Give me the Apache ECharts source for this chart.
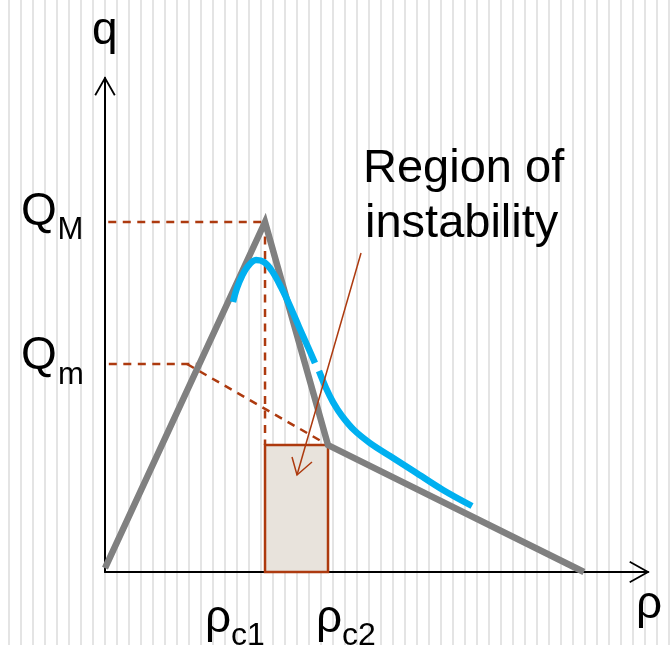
<!DOCTYPE html>
<html>
<head>
<meta charset="utf-8">
<script src="https://cdn.jsdelivr.net/npm/echarts@6/dist/echarts.min.js"></script>
<style>
  html, body { margin: 0; padding: 0; background: #fff; }
  #chart {
    width: 672px;
    height: 645px;
    background: repeating-linear-gradient(to right, #fff 0px, #fff 8px, #e4e4e4 8px, #e4e4e4 10px, #fff 10px, #fff 12px);
  }
</style>
</head>
<body>
<div id="chart"></div>
<script>
  // fundamental diagram, triangular shape (rho, q)
  const triRho = [0, 29.47, 41.07, 88.2]
  const triQ = [0.8, 70.85, 25.7, 0]
  // observed curve, two pieces
  const obsRhoA = [23.57, 24.31, 25.23, 26.34, 27.81, 29.28, 30.76, 32.41, 34.07, 35.73, 37.38, 38.67]
  const obsQA = [54.66, 57.49, 59.92, 61.94, 63.16, 62.75, 60.93, 57.69, 53.85, 49.6, 45.55, 42.31]
  const obsRhoB = [39.41, 40.7, 41.99, 43.65, 45.86, 48.8, 52.49, 57.09, 62.25, 67.59]
  const obsQB = [40.69, 37.25, 34.41, 31.58, 28.74, 26.11, 23.48, 20.24, 16.6, 13.36]
  // key levels
  const rhoC1 = 29.47
  const rhoC2 = 41.07
  const qKnee = 25.7
  const QM = 70.85
  const Qm = 42.1
  const qmLineRho = [0.7, 17.5] // horizontal part of Qm guide
  const qmSlantStart = 15.1
  // arrow pointing into the instability region
  const arrowRho = [47.15, 35.36]
  const arrowQ = [64.57, 19.64]
  const arrowHeadRho = [34.44, 35.36, 38.12]
  const arrowHeadQ = [23.28, 19.64, 22.27]
  // axis arrow heads
  const yHeadRho = [-1.8, 0, 1.8]
  const yHeadQ = [96.5, 100, 96.5]
  const xHeadRho = [96.63, 100, 96.63]
  const xHeadQ = [2.09, 0, -2.09]

  const zip = (xs, ys) => xs.map((x, i) => [x, ys[i]])

  const brown = '#ad3a0f'
  const font = '"Liberation Sans", Arial, sans-serif'
  const dashStyle = { color: brown, width: 2.5, type: [8, 6.5] }

  const heads = [
    { rho: arrowHeadRho, q: arrowHeadQ, color: brown, width: 1.5 },
    { rho: yHeadRho, q: yHeadQ, color: '#000', width: 1.8 },
    { rho: xHeadRho, q: xHeadQ, color: '#000', width: 1.8 }
  ]

  const chartInstance = echarts.init(document.getElementById('chart'), null, { renderer: 'canvas' })

  function lineSeries (data, lineStyle, extra) {
    return Object.assign({
      type: 'line',
      data: data,
      symbol: 'none',
      silent: true,
      clip: false,
      lineStyle: lineStyle
    }, extra || {})
  }

  const option = {
    animation: false,
    backgroundColor: 'transparent',
    grid: { left: 105, right: 24, top: 78, bottom: 73 },
    xAxis: {
      type: 'value',
      min: 0,
      max: 100,
      axisLine: { show: true, onZero: false, lineStyle: { color: '#000', width: 2 } },
      axisTick: { show: false },
      axisLabel: { show: false },
      splitLine: { show: false }
    },
    yAxis: {
      type: 'value',
      min: 0,
      max: 100,
      axisLine: { show: true, onZero: false, lineStyle: { color: '#000', width: 2 } },
      axisTick: { show: false },
      axisLabel: { show: false },
      splitLine: { show: false }
    },
    series: [
      // region of instability box
      lineSeries([], {}, {
        markArea: {
          silent: true,
          itemStyle: { color: '#e8e3dc', borderColor: brown, borderWidth: 2.5 },
          data: [[{ coord: [rhoC1, 0] }, { coord: [rhoC2, qKnee] }]]
        }
      }),
      // dashed guides
      lineSeries([[0.6, QM], [rhoC1, QM]], dashStyle),
      lineSeries([[rhoC1, QM], [rhoC1, qKnee]], dashStyle),
      lineSeries(zip(qmLineRho, [Qm, Qm]), dashStyle),
      lineSeries([[qmSlantStart, Qm], [rhoC2, qKnee]], dashStyle),
      // triangular diagram
      lineSeries(zip(triRho, triQ), { color: '#808080', width: 6.5, join: 'miter' }),
      // observed curve
      lineSeries(zip(obsRhoA, obsQA), { color: '#00b0f0', width: 6.5, join: 'round' }, { smooth: 0.35 }),
      lineSeries(zip(obsRhoB, obsQB), { color: '#00b0f0', width: 6.5, join: 'round' }, { smooth: 0.35 }),
      // annotation arrow shaft
      lineSeries(zip(arrowRho, arrowQ), { color: brown, width: 1.5 }),
      // open arrow heads (annotation + axes)
      {
        type: 'custom',
        coordinateSystem: 'cartesian2d',
        silent: true,
        clip: false,
        data: heads.map(() => [0, 0]),
        renderItem: (params, api) => {
          const h = heads[params.dataIndex]
          return {
            type: 'polyline',
            shape: { points: h.rho.map((r, k) => api.coord([r, h.q[k]])) },
            style: { stroke: h.color, lineWidth: h.width, fill: null }
          }
        }
      }
    ]
  }
  chartInstance.setOption(option)

  // labels placed from the axis scale
  const px = (x, y) => chartInstance.convertToPixel({ gridIndex: 0 }, [x, y])
  function txt (text, x, y, size) {
    return {
      type: 'text',
      x: x,
      y: y,
      silent: true,
      style: { text: text, fill: '#000', font: size + 'px ' + font, textAlign: 'left', verticalAlign: 'middle' }
    }
  }
  const origin = px(0, 0)
  const yTop = px(0, 100)
  const xEnd = px(100, 0)
  const pQM = px(0, QM)
  const pQm = px(0, Qm)
  const pC1 = px(rhoC1, 0)
  const pC2 = px(rhoC2, 0)

  chartInstance.setOption({
    graphic: [
      txt('q', yTop[0] - 13, yTop[1] - 47, 46),
      txt('ρ', xEnd[0] - 12, origin[1] + 33, 46),
      txt('Q', 21, pQM[1] - 10, 46),
      txt('M', 57.5, pQM[1] + 8, 31),
      txt('Q', 21, pQm[1] - 8, 46),
      txt('m', 58, pQm[1] + 11, 31),
      txt('ρ', pC1[0] - 60, origin[1] + 47, 46),
      txt('c1', pC1[0] - 34, origin[1] + 64, 32),
      txt('ρ', pC2[0] - 12, origin[1] + 47, 46),
      txt('c2', pC2[0] + 14, origin[1] + 64, 32),
      txt('Region of', 363, 169, 47),
      txt('instability', 365, 224, 47)
    ]
  })
</script>
</body>
</html>
